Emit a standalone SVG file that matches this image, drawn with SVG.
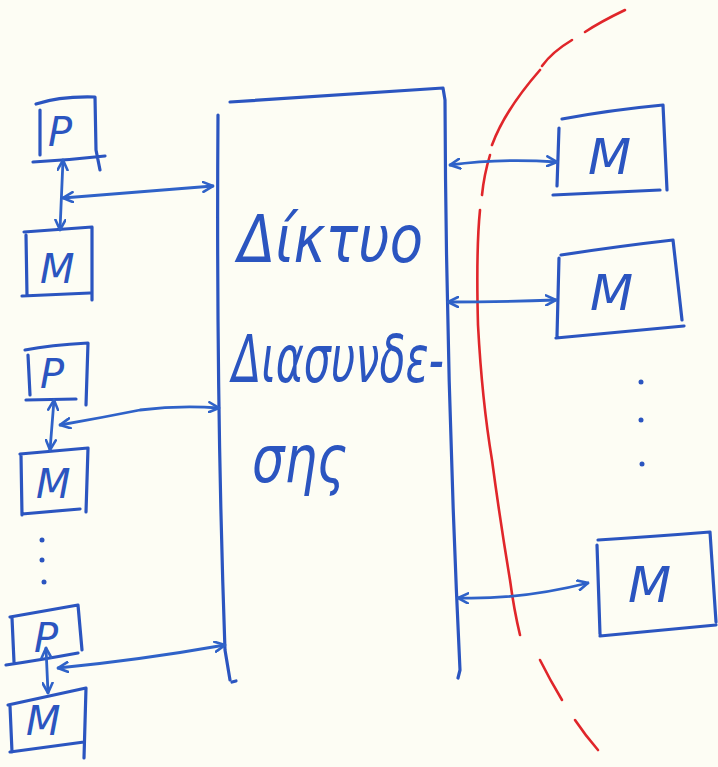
<svg xmlns="http://www.w3.org/2000/svg" width="718" height="767" viewBox="0 0 718 767">
<style>
.s{fill:none;stroke:#2b55c0;stroke-width:3.2;stroke-linecap:round;stroke-linejoin:round}
.c{fill:none;stroke:#2f62c8;stroke-width:2.8;stroke-linecap:round;stroke-linejoin:round}
.t{fill:#2b55c0;font-family:"DejaVu Sans","Noto Sans",sans-serif;font-style:italic}
.lb{font-size:40px}
.lr{font-size:50px}
.big{font-size:66px}
.red{fill:none;stroke:#e0262a;stroke-width:2.6;stroke-linecap:round}
.dot{fill:#2b55c0}
</style>
<defs>
<marker id="ah" viewBox="0 0 12 12" refX="11" refY="6" markerWidth="12" markerHeight="12" markerUnits="userSpaceOnUse" orient="auto-start-reverse">
<path d="M1,1 L11,6 L1,11" fill="none" stroke="#2f62c8" stroke-width="2.6" stroke-linecap="round"/>
</marker>
</defs>
<rect width="718" height="767" fill="#fdfdf4"/>

<g id="red-boundary">
<path class="red" d="M625,10 Q600,22 585,32" />
<path class="red" d="M572,40 Q552,52 542,66" stroke-dasharray="40 12"/>
<path class="red" d="M540,70 Q505,110 492,145" />
<path class="red" d="M490,155 Q484,175 482,195"/>
<path class="red" d="M480,210 Q476,250 478,325 Q482,400 492,460 Q500,520 510,580 Q514,610 520,635"/>
<path class="red" d="M540,660 Q550,680 562,700"/>
<path class="red" d="M575,720 Q585,735 598,750"/>
</g>

<g id="network">
<path class="s" d="M230,102 Q330,95 443,88 L445,100 Q446,380 460,670 L458,678"/>
<path class="s" d="M218,115 Q216,400 225,650 L230,680"/>
<path class="s" d="M232,682 L236,681"/>
<text class="t big" x="238" y="262" textLength="185" lengthAdjust="spacingAndGlyphs">Δίκτυο</text>
<text class="t big" x="232" y="382" textLength="212" lengthAdjust="spacingAndGlyphs">Διασυνδε-</text>
<text class="t big" x="252" y="482" textLength="95" lengthAdjust="spacingAndGlyphs">σης</text>
</g>

<g id="P1">
<path class="s" d="M36,104 Q60,96 95,97 L96,150 L100,170 M33,162 Q70,160 105,156 M40,110 L40,155"/>
<text class="t lb" x="48" y="146">P</text>
</g>
<g id="M1">
<path class="s" d="M24,232 L92,227 L92,300 M26,235 L27,295 M22,296 L90,293"/>
<text class="t lb" x="40" y="283">M</text>
</g>
<g id="P2">
<path class="s" d="M25,350 Q50,345 88,343 L86,405 M28,355 L30,395 M26,400 L76,399"/>
<text class="t lb" x="40" y="388">P</text>
</g>
<g id="M2">
<path class="s" d="M20,454 L88,448 L86,512 M21,455 L22,515 M22,514 L80,509"/>
<text class="t lb" x="36" y="498">M</text>
</g>
<g id="left-dots">
<circle class="dot" cx="42" cy="540" r="2.5"/>
<circle class="dot" cx="42" cy="560" r="2.5"/>
<circle class="dot" cx="44" cy="582" r="2.5"/>
</g>
<g id="P3">
<path class="s" d="M10,617 L78,605 L82,650 M12,618 L14,662 M6,665 Q40,660 78,653"/>
<text class="t lb" x="34" y="652">P</text>
</g>
<g id="M3">
<path class="s" d="M8,705 L86,688 L84,758 M10,706 L12,752 M10,752 L84,742"/>
<text class="t lb" x="26" y="735">M</text>
</g>

<g id="Mr1">
<path class="s" d="M562,119 Q610,110 663,105 L667,190 M559,128 L557,186 M553,195 L660,190"/>
<text class="t lr" x="588" y="174">M</text>
</g>
<g id="Mr2">
<path class="s" d="M561,255 Q620,246 673,240 L682,320 M559,258 L557,336 M556,338 L684,326"/>
<text class="t lr" x="590" y="310">M</text>
</g>
<g id="right-dots">
<circle class="dot" cx="641" cy="382" r="2.5"/>
<circle class="dot" cx="641" cy="420" r="2.5"/>
<circle class="dot" cx="642" cy="464" r="2.5"/>
</g>
<g id="Mr3">
<path class="s" d="M598,540 Q660,536 710,532 L716,622 M597,545 L600,634 M600,636 L716,625"/>
<text class="t lr" x="628" y="602">M</text>
</g>

<g id="connectors">
<path class="c" d="M63,198 Q140,192 213,186" marker-start="url(#ah)" marker-end="url(#ah)"/>
<path class="c" d="M63,160 L60,230" marker-start="url(#ah)" marker-end="url(#ah)"/>
<path class="c" d="M60,425 Q100,418 140,410 Q180,405 219,408" marker-start="url(#ah)" marker-end="url(#ah)"/>
<path class="c" d="M54,400 L50,450" marker-start="url(#ah)" marker-end="url(#ah)"/>
<path class="c" d="M58,668 Q140,660 225,645" marker-start="url(#ah)" marker-end="url(#ah)"/>
<path class="c" d="M46,648 L48,693" marker-start="url(#ah)" marker-end="url(#ah)"/>
<path class="c" d="M450,165 Q500,158 557,162" marker-start="url(#ah)" marker-end="url(#ah)"/>
<path class="c" d="M448,302 Q500,302 556,300" marker-start="url(#ah)" marker-end="url(#ah)"/>
<path class="c" d="M458,598 Q520,600 588,583" marker-start="url(#ah)" marker-end="url(#ah)"/>
</g>
</svg>
